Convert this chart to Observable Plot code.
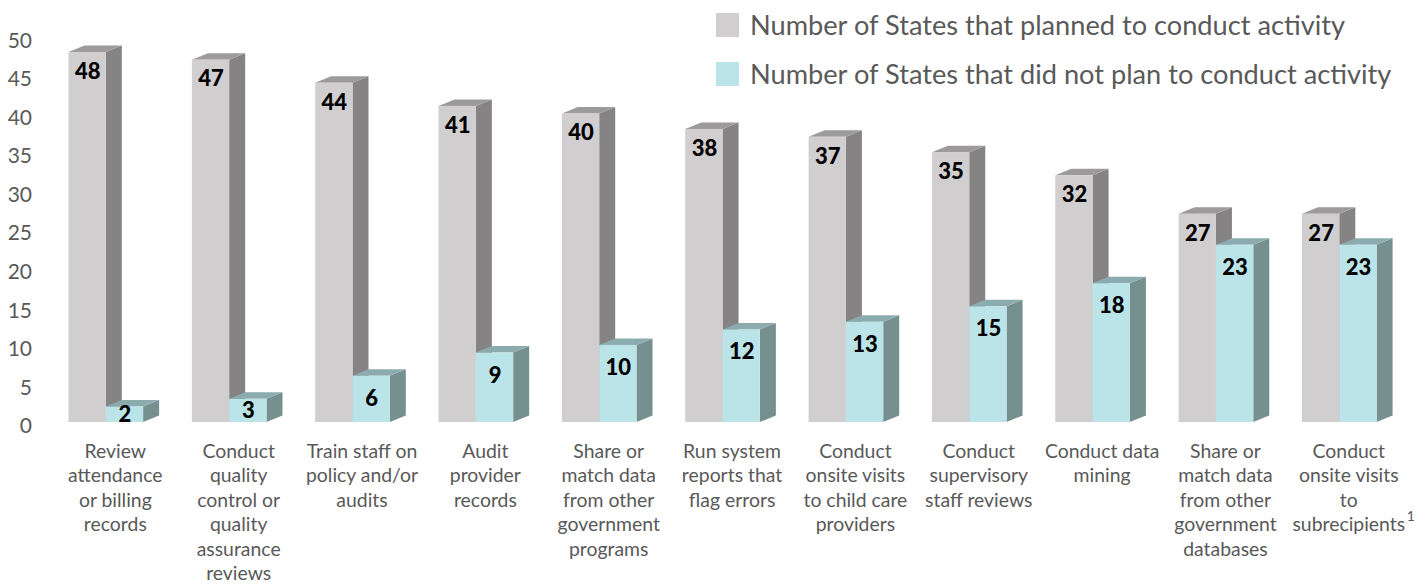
<!DOCTYPE html>
<html>
<head>
<meta charset="utf-8">
<script src="https://cdn.jsdelivr.net/npm/d3@7"></script>
<script src="https://cdn.jsdelivr.net/npm/@observablehq/plot@0.6"></script>
<style>
  html, body { margin: 0; padding: 0; background: #fff; }
  #chart { position: relative; width: 1427px; height: 586px; overflow: hidden; font-family: Lato, sans-serif; }
  #chart svg { display: block; }
  .key { position: absolute; left: 716px; display: flex; align-items: center; color: #595959; font-size: 27.2px; white-space: nowrap; line-height: 24px; }
  .key i { display: block; width: 23px; height: 24px; margin-right: 11px; }
</style>
</head>
<body>
<div id="chart"></div>
<script>
const activities = [
  "Review\nattendance\nor billing\nrecords",
  "Conduct\nquality\ncontrol or\nquality\nassurance\nreviews",
  "Train staff on\npolicy and/or\naudits",
  "Audit\nprovider\nrecords",
  "Share or\nmatch data\nfrom other\ngovernment\nprograms",
  "Run system\nreports that\nflag errors",
  "Conduct\nonsite visits\nto child care\nproviders",
  "Conduct\nsupervisory\nstaff reviews",
  "Conduct data\nmining",
  "Share or\nmatch data\nfrom other\ngovernment\ndatabases",
  "Conduct\nonsite visits\nto\nsubrecipients"
];
const planned = [48, 47, 44, 41, 40, 38, 37, 35, 32, 27, 27];
const notPlanned = [2, 3, 6, 9, 10, 12, 13, 15, 18, 23, 23];
const seriesNames = [
  "Number of States that planned to conduct activity",
  "Number of States that did not plan to conduct activity"
];
const yTicks = [0, 5, 10, 15, 20, 25, 30, 35, 40, 45, 50];
const footnotes = [{activity: activities[10], mark: "1"}];

const seriesStyles = [
  {front: "#D0CECE", side: "#858383", top: "#9C9A9A", labelDrop: 2.5},
  {front: "#BBE4E8", side: "#76908F", top: "#8BABAE", labelDrop: 2.9}
];
const depthX = 16, depthY = 6.5;

const rows = activities.flatMap((activity, i) => [
  {activity, series: seriesNames[0], value: planned[i], drop: seriesStyles[0].labelDrop},
  {activity, series: seriesNames[1], value: notPlanned[i], drop: seriesStyles[1].labelDrop}
]);

// Turns each bar rectangle into the receding face of a box.
function extrude(face, color) {
  return (index, scales, values, dimensions, context, next) => {
    const g = next(index, scales, values, dimensions, context);
    for (const rect of [...g.querySelectorAll("rect")]) {
      const x = +rect.getAttribute("x"), y = +rect.getAttribute("y");
      const w = +rect.getAttribute("width"), h = +rect.getAttribute("height");
      const pts = face === "side"
        ? [[x + w, y], [x + w + depthX, y - depthY], [x + w + depthX, y + h - depthY], [x + w, y + h]]
        : [[x, y], [x + depthX, y - depthY], [x + w + depthX, y - depthY], [x + w, y]];
      const poly = document.createElementNS("http://www.w3.org/2000/svg", "polygon");
      poly.setAttribute("points", pts.join(" "));
      poly.setAttribute("fill", color);
      rect.replaceWith(poly);
    }
    return g;
  };
}

const boxMarks = seriesNames.flatMap((name, i) => {
  const data = rows.filter((d) => d.series === name);
  const channels = {x: "series", y: "value", fx: "activity"};
  return [
    Plot.barY(data, {...channels, fill: seriesStyles[i].side, render: extrude("side", seriesStyles[i].side)}),
    Plot.barY(data, {...channels, fill: seriesStyles[i].top, render: extrude("top", seriesStyles[i].top)}),
    Plot.barY(data, {...channels, fill: seriesStyles[i].front})
  ];
});

// Value labels sit just under the bar top, or mid-bar on the shortest bars.
const labelY = (d) => Math.max(d.value - d.drop, d.value / 2);

const plot = Plot.plot({
  width: 1427,
  height: 586,
  marginLeft: 68.5,
  marginRight: 50.4,
  marginTop: 36.5,
  marginBottom: 164,
  style: {fontFamily: "Lato, sans-serif", background: "#fff"},
  fx: {domain: activities, paddingInner: 0.395, paddingOuter: 0, round: false, axis: null},
  x: {domain: seriesNames, padding: 0, round: false, axis: null},
  y: {domain: [0, 50], axis: null},
  marks: [
    ...boxMarks,
    Plot.text(rows, {
      x: "series", y: labelY, fx: "activity", text: "value",
      fontSize: 22, fontWeight: 900, fill: "#000"
    }),
    Plot.axisY({
      ticks: yTicks, tickSize: 0, tickPadding: 37, fontSize: 21, color: "#595959",
      dy: 4, label: null, tickFormat: (d) => d
    }),
    Plot.axisFx({
      anchor: "bottom", tickSize: 0, tickPadding: 18, fontSize: 19.4, lineHeight: 1.263,
      color: "#595959", dx: 9, label: null, tickFormat: (d) => d
    }),
    // Raised footnote reference after the last category name.
    Plot.text(footnotes, {
      fx: "activity", text: "mark", frameAnchor: "bottom", dx: 71, dy: 98,
      fontSize: 14, fill: "#595959"
    })
  ]
});

const chart = document.getElementById("chart");
chart.appendChild(plot);

// Series key in the upper right corner.
seriesNames.forEach((name, i) => {
  const key = document.createElement("div");
  key.className = "key";
  key.style.top = (i === 0 ? 13 : 62) + "px";
  const swatch = document.createElement("i");
  swatch.style.background = seriesStyles[i].front;
  key.append(swatch, name);
  chart.appendChild(key);
});
</script>
</body>
</html>
